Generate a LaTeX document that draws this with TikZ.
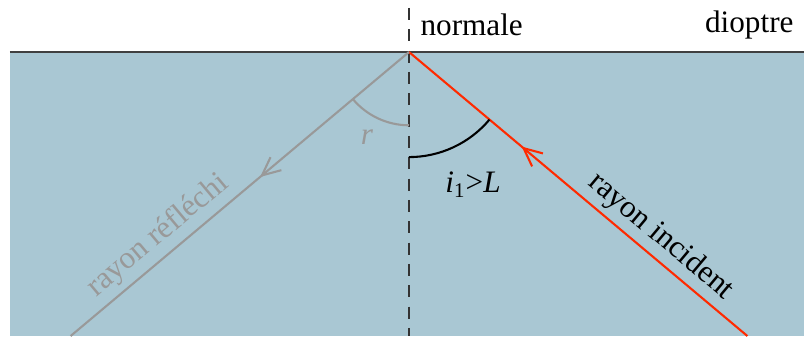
\documentclass[tikz,border=0pt]{standalone}
\usepackage{fontspec}
\setmainfont{Liberation Serif}
\usetikzlibrary{arrows.meta, positioning, calc, angles, decorations.markings}
\definecolor{opwater}{HTML}{A9C7D3}
\definecolor{opred}{HTML}{FF2A00}
\definecolor{opgray}{HTML}{999999}

\begin{document}
\begin{tikzpicture}[
  every node/.style={font=\fontsize{12}{14}\selectfont},
  ray/.style={draw=#1, line width=0.8pt},
  barb/.style={postaction={decorate, decoration={markings,
      mark=at position #1 with {\arrow{Straight Barb[length=7pt, width=6.5pt, line width=0.8pt]}}}}},
  lbl/.style={sloped, above, inner sep=2pt},
]
\useasboundingbox (-5.527,0.703) rectangle (5.338,-3.838);

% milieu et dioptre
\fill[opwater] (-5.392,0) rectangle (5.338,-3.838);
\coordinate (O) at (0,0);
\coordinate (W) at (-5.392,0);
\coordinate (E) at (5.338,0);
\draw[black!75, line width=0.7pt] (W) -- (E);

% normale
\coordinate (N) at (0,0.595);
\coordinate (B) at (0,-3.838);
\draw[black!80, line width=0.6pt, dash pattern=on 4.6pt off 3.6pt] (N) -- (B);

% rayons
\coordinate (I) at (4.573,-3.838);
\coordinate (R) at (-4.573,-3.838);
\draw[ray=opred, barb=0.667] (I) -- node[lbl, pos=0.295] {rayon incident} (O);
\draw[ray=opgray, barb=0.44] (O) -- node[lbl, pos=0.702, text=opgray] {rayon réfléchi} (R);

% angles
\path pic[draw=black, line width=0.8pt, angle radius=1.42cm] {angle=B--O--I};
\path pic[draw=opgray, line width=0.8pt, angle radius=0.99cm] {angle=R--O--B};

% textes
\node[anchor=west, inner sep=0pt] (normale) at (0.149,0.365) {normale};
\node[anchor=east, inner sep=0pt] (dioptre) at (5.203,0.365) {dioptre};
\node (incidence) at (0.865,-1.797) {\textit{i}\textsubscript{1}>\textit{L}};
\node[text=opgray] (refl) at (-0.568,-1.149) {\textit{r}};
\end{tikzpicture}
\end{document}
